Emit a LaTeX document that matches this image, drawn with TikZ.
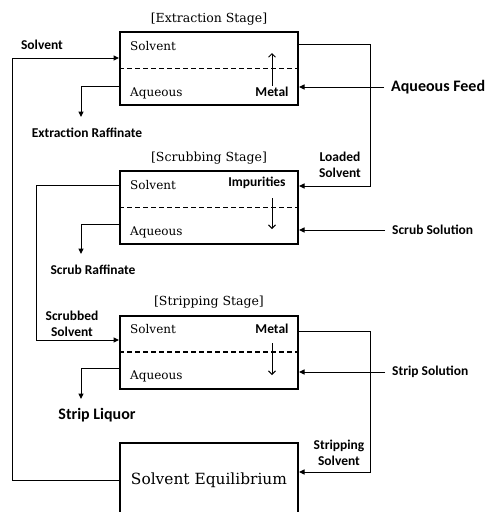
\documentclass[tikz,border=0pt]{standalone}
\usepackage{fontspec}
\setmainfont{DejaVu Serif}
\newfontfamily\lblfont{Carlito}
\usetikzlibrary{arrows.meta,positioning}

\begin{document}
\begin{tikzpicture}[x=1pt,y=-1pt,>=Stealth,
  stage/.style={draw, line width=2pt, minimum width=178pt, minimum height=73pt},
  phase/.style={font=\fontsize{12}{13}\selectfont, inner sep=0pt},
  title/.style={font=\fontsize{12.5}{13}\selectfont, inner sep=0pt},
  lbl/.style={font=\lblfont\bfseries\fontsize{13.5}{16}\selectfont, align=center, inner sep=1pt},
  big/.style={font=\lblfont\bfseries\fontsize{16}{18}\selectfont, inner sep=1pt},
  flow/.style={-{Triangle[length=5.5pt,width=5pt]}, line width=1pt},
  transfer/.style={-{Straight Barb[length=3.5pt,width=7pt]}, line width=1pt}]
\useasboundingbox (0,0) rectangle (487,512);

\node[stage] (ext) at (209,68.5) {};
\node[stage] (scr) at (209,207.5) {};
\node[stage] (str) at (209,352) {};
\node[stage, minimum height=74pt, anchor=north, font=\fontsize{15.4}{16}\selectfont] (equil) at (209,442) {Solvent Equilibrium};

\foreach \s/\t in {ext/Extraction, scr/Scrubbing, str/Stripping} {
  \node[title, above=6pt of \s] {[\t\ Stage]};
  \draw[dash pattern=on 5pt off 3pt, line width=1.4pt] (\s.west) -- (\s.east);
  \node[phase, anchor=west] at ([xshift=11pt,yshift=-15pt]\s.north west) {Solvent};
  \node[phase, anchor=west] at ([xshift=11pt,yshift=13pt]\s.south west) {Aqueous};
}

% extraction
\node[lbl] (m1) at (272,92) {Metal};
\draw[transfer] (m1.north) -- (272,53);
\node[lbl] (solv) at (42,45) {Solvent};
\draw[flow] (equil.west) -| (12,58) -- (ext.west |- 0,58);
\node[big, anchor=west] (feed) at (390,87) {Aqueous Feed};
\draw[flow] (feed.west) ++(-6pt,0) -- (ext.east |- feed.west);
\node[lbl] (eraf) at (87,133) {Extraction Raffinate};
\draw[flow] (ext.west |- 0,86) -| (81,117);
\node[lbl] (load) at (340,165) {Loaded\\Solvent};
\draw[flow] (ext.east |- 0,44) -| (370,186) -- (scr.east |- 0,186);

% scrubbing
\node[lbl] (imp) at (257,183) {Impurities};
\draw[transfer] (272,198) -- (272,229);
\node[lbl, anchor=west] (scrsol) at (391,230) {Scrub Solution};
\draw[flow] (scrsol.west) ++(-6pt,0) -- (scr.east |- scrsol.west);
\node[lbl] (sraf) at (93,270) {Scrub Raffinate};
\draw[flow] (scr.west |- 0,224) -| (81,254);
\node[lbl] (scrd) at (72,324) {Scrubbed\\Solvent};
\draw[flow] (scr.west |- 0,185) -| (36,340) -- (str.west |- 0,340);

% stripping
\node[lbl] (m2) at (272,329) {Metal};
\draw[transfer] (272,343) -- (272,375);
\node[lbl, anchor=west] (ssol) at (391,372) {Strip Solution};
\draw[flow] (ssol.west) ++(-6pt,0) -- (str.east |- ssol.west);
\node[big] (liq) at (97,415) {Strip Liquor};
\draw[flow] (str.west |- 0,368) -| (81,399);
\node[lbl] (strpd) at (339,453) {Stripping\\Solvent};
\draw[flow] (str.east |- 0,331) -| (370,472) -- (equil.east |- 0,472);
\end{tikzpicture}
\end{document}
